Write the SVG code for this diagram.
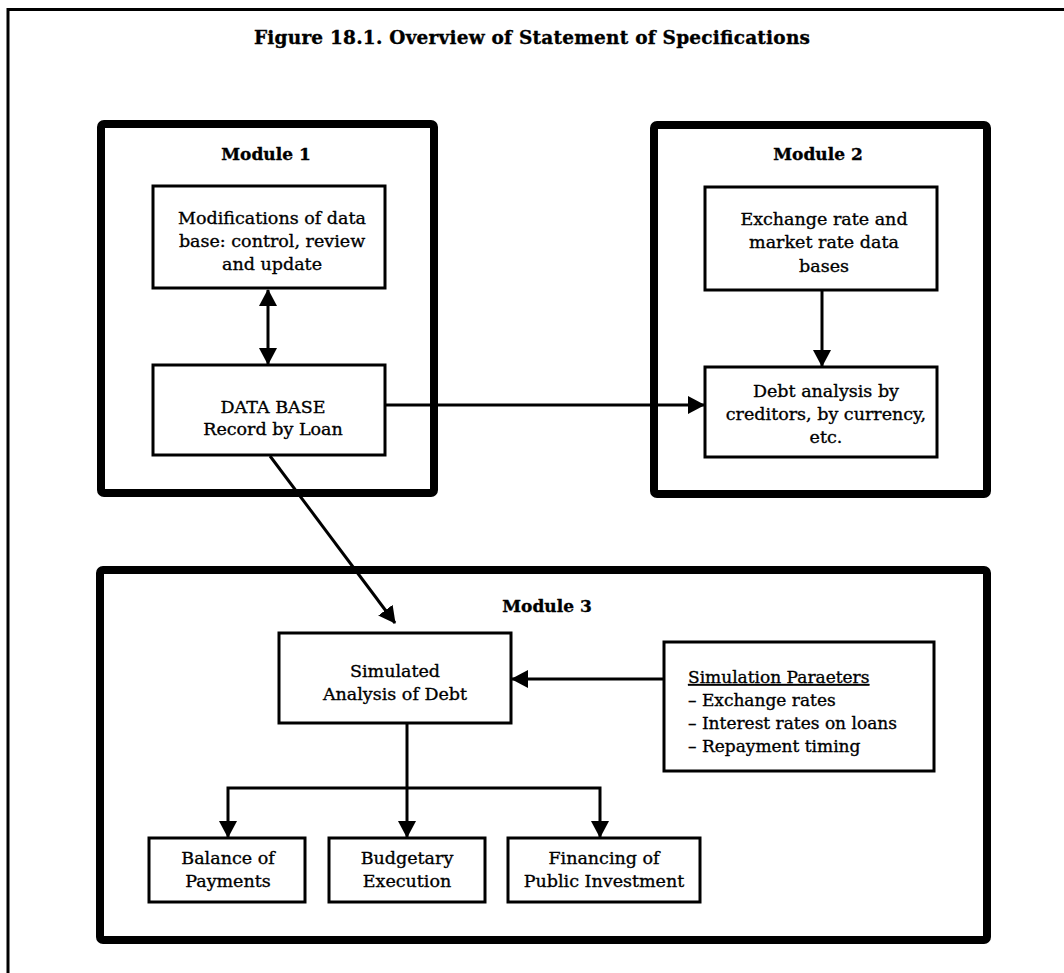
<svg xmlns="http://www.w3.org/2000/svg" width="1064" height="973" viewBox="0 0 1064 973">
  <style>
    .frame { fill: none; stroke: #000; stroke-width: 3; }
    .module { fill: #fff; stroke: #000; stroke-width: 8; stroke-linejoin: round; }
    .box { fill: #fff; stroke: #000; stroke-width: 3; }
    .wire { fill: none; stroke: #000; stroke-width: 3; }
    text { font-family: "DejaVu Serif", "Liberation Serif", serif; fill: #000; stroke: #000; stroke-width: 0.35; }
    .title { font-size: 18.5px; font-weight: bold; text-anchor: middle; }
    .mlabel { font-size: 17px; font-weight: bold; text-anchor: middle; }
    .lbl { font-size: 17.5px; text-anchor: middle; }
    .lst { font-size: 17px; }
  </style>
  <defs>
    <marker id="arrow" markerUnits="userSpaceOnUse" markerWidth="18" markerHeight="18" refX="16" refY="9" orient="auto-start-reverse">
      <path d="M0,0 L17,9 L0,18 z" fill="#000"/>
    </marker>
  </defs>

  <rect width="1064" height="973" fill="#fff"/>

  <!-- page frame -->
  <path class="frame" d="M8,973 V9.5 H1064"/>

  <text class="title" x="532" y="44" textLength="556">Figure 18.1. Overview of Statement of Specifications</text>

  <!-- module containers -->
  <g id="module1">
    <rect class="module" x="101" y="124" width="333" height="369" rx="3"/>
    <text class="mlabel" x="266" y="160">Module 1</text>
  </g>
  <g id="module2">
    <rect class="module" x="654" y="125" width="333" height="369" rx="3"/>
    <text class="mlabel" x="818" y="160">Module 2</text>
  </g>
  <g id="module3">
    <rect class="module" x="100" y="570" width="887" height="370" rx="3"/>
    <text class="mlabel" x="547" y="612">Module 3</text>
  </g>

  <!-- inner nodes -->
  <g id="modifications">
    <rect class="box" x="153" y="186" width="232" height="102"/>
    <text class="lbl" x="272" y="224">Modifications of data</text>
    <text class="lbl" x="272" y="247">base: control, review</text>
    <text class="lbl" x="272" y="270">and update</text>
  </g>
  <g id="database">
    <rect class="box" x="153" y="365" width="232" height="90"/>
    <text class="lbl" x="273" y="413">DATA BASE</text>
    <text class="lbl" x="273" y="435">Record by Loan</text>
  </g>
  <g id="exchange-data">
    <rect class="box" x="705" y="187" width="232" height="103"/>
    <text class="lbl" x="824" y="225">Exchange rate and</text>
    <text class="lbl" x="824" y="248">market rate data</text>
    <text class="lbl" x="824" y="272">bases</text>
  </g>
  <g id="debt-analysis">
    <rect class="box" x="705" y="367" width="232" height="90"/>
    <text class="lbl" x="826" y="397">Debt analysis by</text>
    <text class="lbl" x="826" y="420">creditors, by currency,</text>
    <text class="lbl" x="826" y="443">etc.</text>
  </g>
  <g id="simulated">
    <rect class="box" x="279" y="633" width="232" height="90"/>
    <text class="lbl" x="395" y="677">Simulated</text>
    <text class="lbl" x="395" y="700">Analysis of Debt</text>
  </g>
  <g id="sim-parameters">
    <rect class="box" x="664" y="642" width="270" height="129"/>
    <text class="lst" x="688" y="683" text-decoration="underline">Simulation Paraeters</text>
    <text class="lst" x="688" y="706">– Exchange rates</text>
    <text class="lst" x="688" y="729">– Interest rates on loans</text>
    <text class="lst" x="688" y="752">– Repayment timing</text>
  </g>
  <g id="balance">
    <rect class="box" x="149" y="838" width="156" height="64"/>
    <text class="lbl" x="228" y="864">Balance of</text>
    <text class="lbl" x="228" y="887">Payments</text>
  </g>
  <g id="budgetary">
    <rect class="box" x="329" y="838" width="156" height="64"/>
    <text class="lbl" x="407" y="864">Budgetary</text>
    <text class="lbl" x="407" y="887">Execution</text>
  </g>
  <g id="financing">
    <rect class="box" x="508" y="838" width="192" height="64"/>
    <text class="lbl" x="604" y="864">Financing of</text>
    <text class="lbl" x="604" y="887">Public Investment</text>
  </g>

  <!-- connectors -->
  <g id="connectors">
    <line class="wire" x1="268" y1="290" x2="268" y2="364" marker-start="url(#arrow)" marker-end="url(#arrow)"/>
    <line class="wire" x1="385" y1="405" x2="704" y2="405" marker-end="url(#arrow)"/>
    <line class="wire" x1="822" y1="290" x2="822" y2="366" marker-end="url(#arrow)"/>
    <line class="wire" x1="270" y1="456" x2="395" y2="623" marker-end="url(#arrow)"/>
    <line class="wire" x1="664" y1="679" x2="512" y2="679" marker-end="url(#arrow)"/>
    <line class="wire" x1="407" y1="723" x2="407" y2="837" marker-end="url(#arrow)"/>
    <polyline class="wire" points="228,837 228,788 600,788 600,837" marker-start="url(#arrow)" marker-end="url(#arrow)"/>
  </g>
</svg>
